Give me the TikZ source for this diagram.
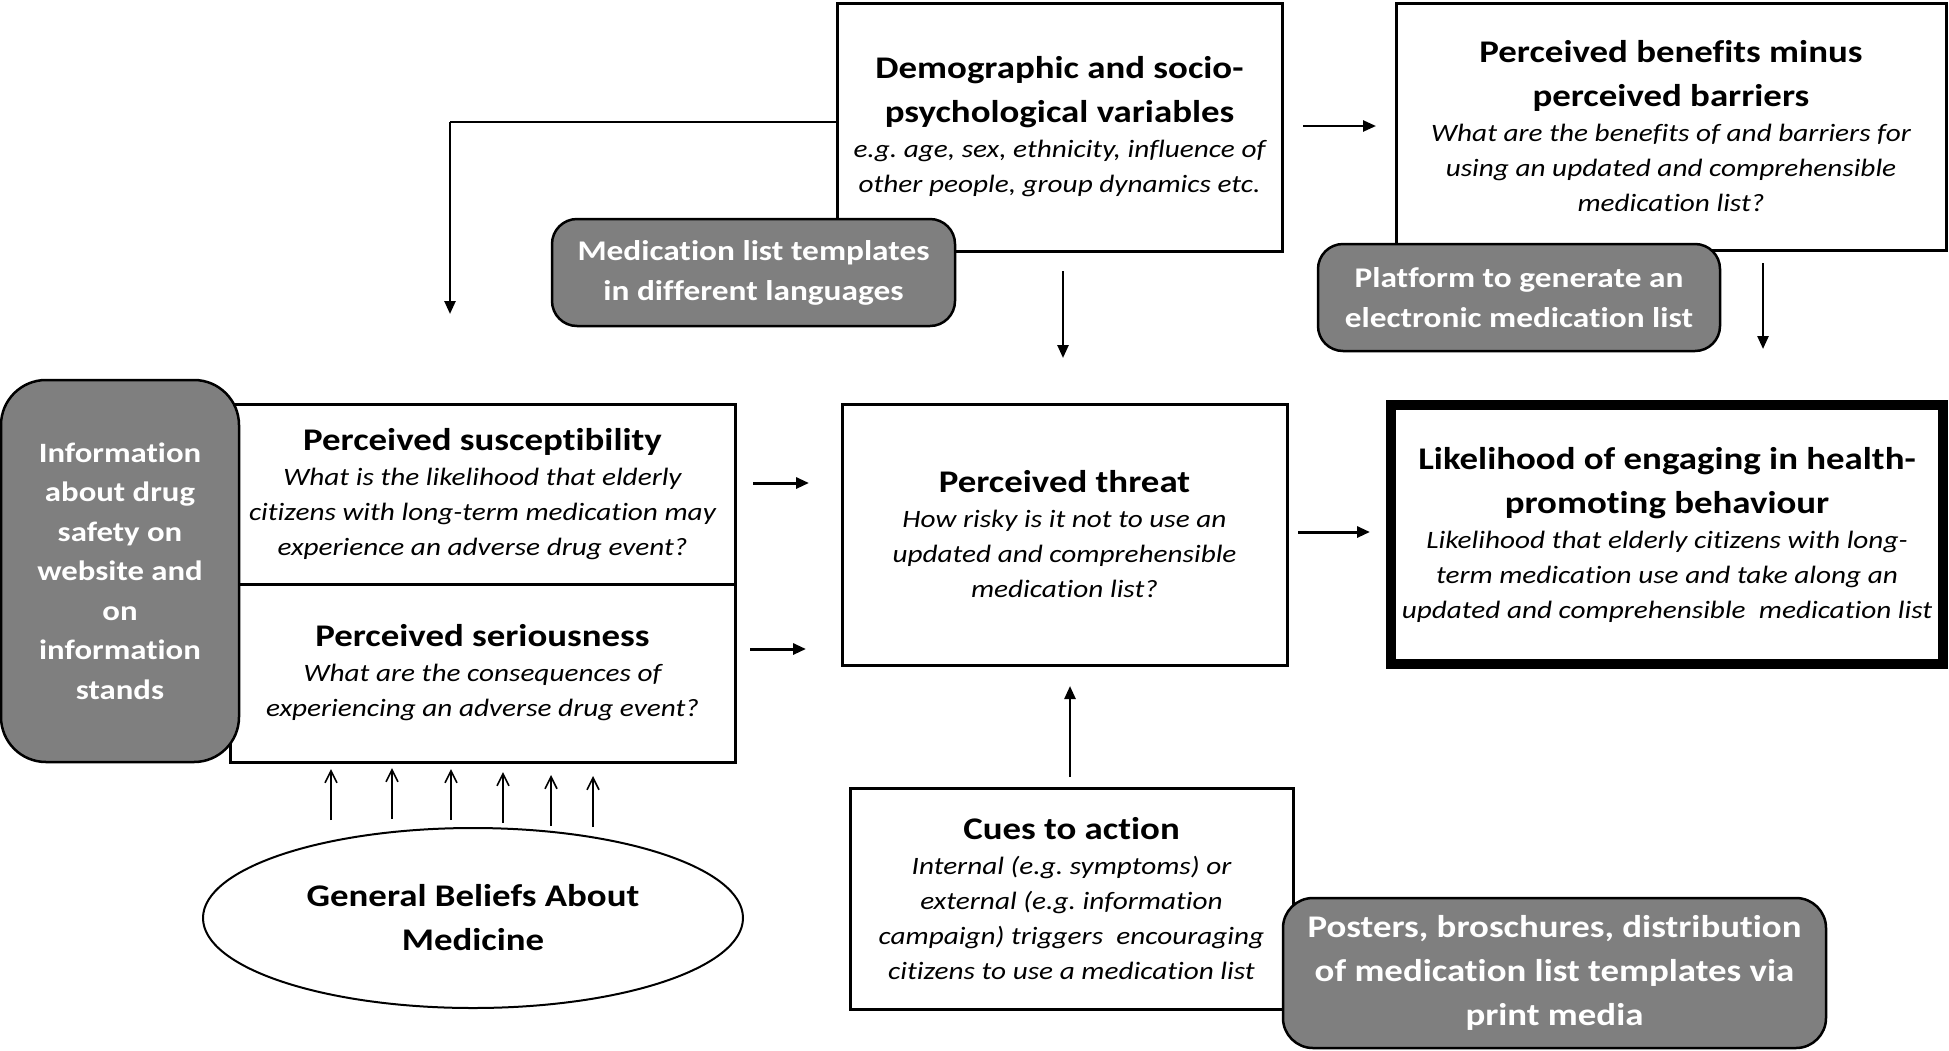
\documentclass[tikz,border=0pt]{standalone}
\usepackage{fontspec}
\setmainfont{Carlito}[FakeStretch=1.17, Ligatures={CommonOff}]
\usetikzlibrary{arrows.meta,shapes.geometric}
\newcommand{\nsp}{\spaceskip=\fontdimen2\font\relax\xspaceskip=\fontdimen2\font\relax}
\newcommand{\ttl}[1]{{\fontsize{31.5}{44}\selectfont\bfseries\nsp #1\par}}
\newcommand{\bdy}[1]{{\fontsize{25}{35}\selectfont\itshape\nsp #1\par}}
\newcommand{\gtx}[1]{{\fontsize{28.5}{40}\selectfont\bfseries\color{white}\nsp #1\par}}
\definecolor{boxgray}{HTML}{7F7F7F}
\tikzset{
  box/.style={draw, line width=3pt, fill=white, inner sep=0pt, align=center, rectangle},
  gbox/.style={draw, line width=2.5pt, fill=boxgray, inner sep=0pt, align=center, rectangle, rounded corners=25pt},
  arr/.style={line width=2.5pt, -{Triangle[length=13pt,width=11pt]}},
  thinarr/.style={line width=1.6pt, -{Straight Barb[length=12pt,width=12pt,line width=1.6pt]}}
}
\begin{document}
\begin{tikzpicture}[x=1pt,y=-1pt]
\useasboundingbox (0,0) rectangle (1949,1050);
% main boxes
\node[box, minimum width=445pt, minimum height=248pt, text width=440pt] (demo) at (1059.5,127)
  {\ttl{Demographic and socio-\\psychological variables}\bdy{e.g. age, sex, ethnicity, influence of\\other people, group dynamics etc.}};
\node[box, minimum width=550pt, minimum height=247pt, text width=545pt] (ben) at (1671,126.5)
  {\ttl{Perceived benefits minus\\perceived barriers}\bdy{What are the benefits of and barriers for\\using an updated and comprehensible\\medication list?}};
\node[box, minimum width=505pt, minimum height=180pt, text width=500pt] (sus) at (482.5,494)
  {\ttl{Perceived susceptibility}\bdy{What is the likelihood that elderly\\citizens with long-term medication may\\experience an adverse drug event?}};
\node[box, minimum width=505pt, minimum height=178pt, text width=500pt] (ser) at (482.5,673)
  {\ttl{Perceived seriousness}\bdy{What are the consequences of\\experiencing an adverse drug event?}};
\node[box, minimum width=445pt, minimum height=261pt, text width=440pt] (threat) at (1064.5,534.5)
  {\ttl{Perceived threat}\bdy{How risky is it not to use an\\updated and comprehensible\\medication list?}};
\node[box, line width=10pt, minimum width=552pt, minimum height=259pt, text width=540pt] (like) at (1667,534.5)
  {\ttl{Likelihood of engaging in health-\\promoting behaviour}\bdy{Likelihood that elderly citizens with long-\\term medication use and take along an\\updated and comprehensible\ \ medication list}};
\node[box, minimum width=443pt, minimum height=221pt, text width=440pt] (cues) at (1071.5,898.5)
  {\ttl{Cues to action}\bdy{Internal (e.g. symptoms) or\\external (e.g. information\\campaign) triggers\ \ encouraging\\citizens to use a medication list}};
% gray boxes
\node[gbox, minimum width=403pt, minimum height=107pt, text width=398pt] (medt) at (753.5,272.5)
  {\gtx{Medication list templates\\in different languages}};
\node[gbox, minimum width=402pt, minimum height=107pt, text width=398pt] (plat) at (1519,297.5)
  {\gtx{Platform to generate an\\electronic medication list}};
\node[gbox, rounded corners=45pt, minimum width=238pt, minimum height=382pt, text width=234pt] (info) at (120,571)
  {{\fontsize{28}{39.5}\selectfont\bfseries\color{white}\nsp Information\\about drug\\safety on\\website and\\on\\information\\stands\par}};
\node[gbox, rounded corners=30pt, minimum width=543pt, minimum height=150pt, text width=538pt] (post) at (1554.5,973)
  {{\fontsize{31.5}{44}\selectfont\bfseries\color{white}\nsp Posters, broschures, distribution\\of medication list templates via\\print media\par}};
% ellipse
\node[draw, ellipse, line width=2pt, fill=white, minimum width=540pt, minimum height=180pt, inner sep=0pt, align=center, font=\fontsize{31.5}{44}\selectfont\bfseries] (ell) at (473,918)
  {General Beliefs About\\Medicine};
% connectors
\coordinate (dk) at (450,122);
\coordinate (dkend) at (450,314);
\draw[line width=2.5pt] (demo.west |- dk) -- (dk);
\draw[arr] (dk) -- (dkend);
\coordinate (a1s) at (1303,126); \coordinate (a1e) at (1376,126);
\draw[arr] (a1s) -- (a1e);
\coordinate (a2s) at (1063,271); \coordinate (a2e) at (1063,358);
\draw[arr] (a2s) -- (a2e);
\coordinate (a3s) at (1763,263); \coordinate (a3e) at (1763,349);
\draw[arr] (a3s) -- (a3e);
\coordinate (a4s) at (753,483); \coordinate (a4e) at (809,483);
\draw[arr, line width=3pt] (a4s) -- (a4e);
\coordinate (a5s) at (750,649); \coordinate (a5e) at (806,649);
\draw[arr, line width=3pt] (a5s) -- (a5e);
\coordinate (a6s) at (1298,532); \coordinate (a6e) at (1370,532);
\draw[arr, line width=3pt] (a6s) -- (a6e);
\coordinate (a7s) at (1070,777); \coordinate (a7e) at (1070,686);
\draw[arr] (a7s) -- (a7e);
\foreach \i/\x/\yb/\yt in {1/331/820/769, 2/392/819/768, 3/451/820/769, 4/503/823/772, 5/551/826/775, 6/593/827/776} {
  \coordinate (ub\i) at (\x,\yb);
  \coordinate (ut\i) at (\x,\yt);
  \draw[thinarr] (ub\i) -- (ut\i);
}
\end{tikzpicture}
\end{document}
